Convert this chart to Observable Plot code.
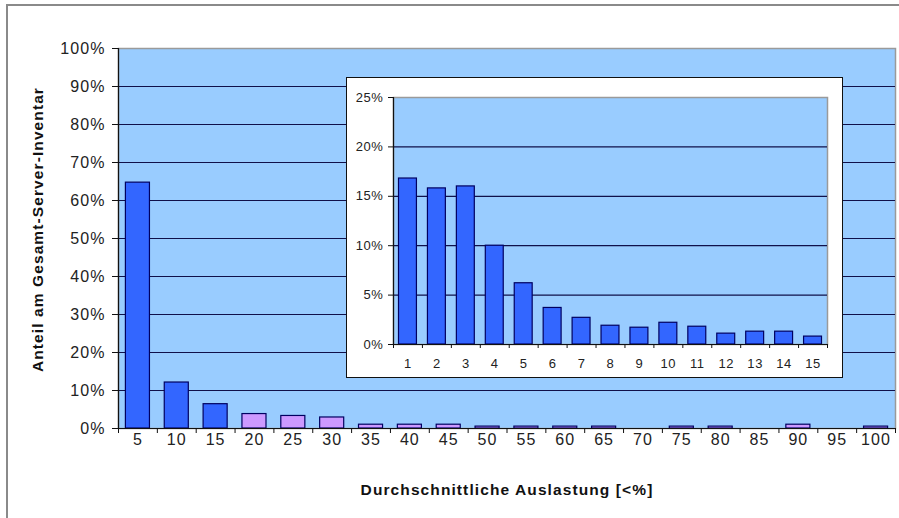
<!DOCTYPE html>
<html>
<head>
<meta charset="utf-8">
<script src="https://cdn.jsdelivr.net/npm/d3@7"></script>
<script src="https://cdn.jsdelivr.net/npm/@observablehq/plot@0.6"></script>
<style>
  html, body { margin: 0; padding: 0; background: #fff; overflow: hidden; }
  #wrap { position: relative; width: 899px; height: 518px; overflow: hidden; background: #fff; }
  #border { position: absolute; left: 6px; top: 4px; width: 920px; height: 540px; border: 2px solid #8a8a8a; box-sizing: border-box; }
  #main { position: absolute; left: 0; top: 0; }
  #inset { position: absolute; left: 346px; top: 77px; width: 497px; height: 301px; background: #fff; border: 1px solid #111; box-sizing: border-box; }
  #inset svg { position: absolute; left: 0; top: 0; }
</style>
</head>
<body>
<div id="wrap">
  <div id="border"></div>
  <div id="main"></div>
  <div id="inset"></div>
</div>
<script>
// Distribution of servers by average utilisation (upper bound of each 5 % class)
const classLabels = ["5","10","15","20","25","30","35","40","45","50","55","60","65","70","75","80","85","90","95","100"];
const classShares = [0.647,0.121,0.064,0.038,0.033,0.029,0.010,0.010,0.010,0.005,0.005,0.005,0.005,0,0.005,0.005,0,0.010,0,0.005];
// first three classes are highlighted (they make up the detail view)
const classColors = ["#3366FF","#3366FF","#3366FF","#CC99FF","#CC99FF","#CC99FF","#CC99FF","#CC99FF","#CC99FF","#CC99FF","#CC99FF","#CC99FF","#CC99FF","#CC99FF","#CC99FF","#CC99FF","#CC99FF","#CC99FF","#CC99FF","#CC99FF"];
const mainTicks = [0,0.1,0.2,0.3,0.4,0.5,0.6,0.7,0.8,0.9,1.0];

// Detail: the lowest 15 % in 1 % steps
const detailLabels = ["1","2","3","4","5","6","7","8","9","10","11","12","13","14","15"];
const detailShares = [0.168,0.158,0.160,0.100,0.062,0.037,0.027,0.019,0.017,0.022,0.018,0.011,0.013,0.013,0.008];
const detailTicks = [0,0.05,0.10,0.15,0.20,0.25];

const yTitle = "Anteil am Gesamt-Server-Inventar";
const xTitle = "Durchschnittliche Auslastung [<%]";

const plotBg = "#99CCFF";
const gridColor = "#10104a";
const barStroke = "#000060";
const pct = d3.format(".0%");

const mainRows = classLabels.map((label, i) => ({i, label, value: classShares[i], color: classColors[i]}));
const detailRows = detailLabels.map((label, i) => ({i, label, value: detailShares[i]}));

function barChart({rows, labels, ticks, width, height, margins, inset, fontSize, spacing, tickSize, yPad, xPad, extra = []}) {
  const n = labels.length;
  const top = ticks[ticks.length - 1];
  return Plot.plot({
    width, height,
    marginLeft: margins[0], marginRight: margins[1], marginTop: margins[2], marginBottom: margins[3],
    style: {fontFamily: "'Liberation Sans', Arial, sans-serif", fontSize: fontSize + "px", letterSpacing: spacing + "px", color: "#111", background: "transparent", overflow: "visible"},
    x: {type: "linear", domain: [0, n], axis: null},
    y: {domain: [0, top], axis: null},
    marks: [
      Plot.frame({fill: plotBg, stroke: "#9a9a9a", strokeWidth: 1.5}),
      Plot.ruleY(ticks.filter(t => t > 0 && t < top), {stroke: gridColor, strokeWidth: 1.2}),
      Plot.rectY(rows, {
        x1: d => d.i, x2: d => d.i + 1, y: "value",
        fill: d => d.color || "#3366FF", stroke: barStroke, strokeWidth: 1.2,
        insetLeft: inset, insetRight: inset
      }),
      Plot.ruleX([0], {stroke: "#111", strokeWidth: 1.2}),
      Plot.ruleY([0], {stroke: "#111", strokeWidth: 1.2}),
      Plot.axisY({ticks, tickFormat: pct, label: null, tickSize, tickPadding: yPad, stroke: "#111", strokeOpacity: 1, fill: "#222"}),
      Plot.axisX({ticks: d3.range(0, n + 1), tickFormat: () => "", label: null, tickSize: tickSize - 1, stroke: "#111", strokeOpacity: 1}),
      Plot.axisX({ticks: d3.range(0, n).map(i => i + 0.5), tickFormat: v => labels[Math.floor(v)], label: null, tickSize: 0, tickPadding: xPad, fill: "#222"}),
      ...extra
    ]
  });
}

const main = barChart({
  rows: mainRows, labels: classLabels, ticks: mainTicks,
  width: 899, height: 518, margins: [118, 4, 48, 90],
  inset: 7.4, fontSize: 16, spacing: 1.1, tickSize: 6, yPad: 7, xPad: 5,
  extra: [
    Plot.text([yTitle], {text: d => d, frameAnchor: "left", textAnchor: "middle", dx: -80, dy: -9, rotate: -90, fontWeight: "bold", fontSize: 15.5, fill: "#111"}),
    Plot.text([xTitle], {text: d => d, frameAnchor: "bottom", textAnchor: "middle", dy: 66, fontWeight: "bold", fontSize: 15.5, fill: "#111"})
  ]
});
document.getElementById("main").append(main);

const detail = barChart({
  rows: detailRows, labels: detailLabels, ticks: detailTicks,
  width: 495, height: 299, margins: [46, 15, 19, 33],
  inset: 5.5, fontSize: 13, spacing: 0.6, tickSize: 5, yPad: 5, xPad: 14
});
document.getElementById("inset").append(detail);
</script>
</body>
</html>
